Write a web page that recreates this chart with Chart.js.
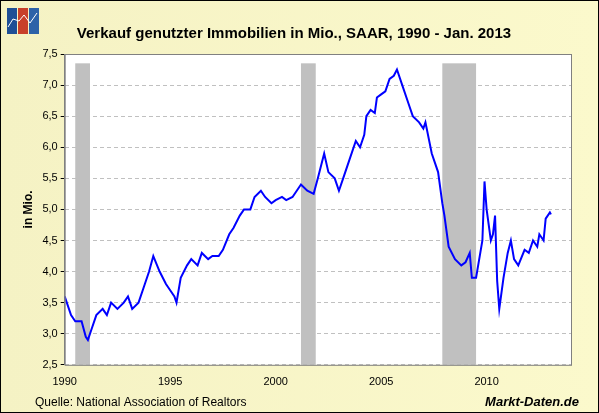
<!DOCTYPE html>
<html><head><meta charset="utf-8">
<script src="https://cdn.jsdelivr.net/npm/chart.js@4/dist/chart.umd.min.js"></script>
<style>
html,body{margin:0;padding:0}
body{width:599px;height:413px;overflow:hidden}
#wrap{position:relative;width:597px;height:411px;border:1px solid #000;background:linear-gradient(to right,#f5f2c4,#fbf9cc)}
canvas{position:absolute;left:0;top:0}
</style></head><body>
<div id="wrap"><canvas id="c" width="597" height="411"></canvas></div>
<script>
// Zeitpunkte (Dezimaljahr) und Verkäufe in Mio. (SAAR)
const years = [1990.0,1990.3,1990.5,1990.8,1991.0,1991.1,1991.3,1991.5,1991.8,1992.0,1992.2,1992.5,1992.8,1993.0,1993.2,1993.5,1993.8,1994.0,1994.2,1994.5,1994.8,1995.0,1995.2,1995.3,1995.5,1995.8,1996.0,1996.3,1996.5,1996.8,1997.0,1997.3,1997.5,1997.8,1998.0,1998.3,1998.5,1998.8,1999.0,1999.3,1999.5,1999.8,2000.0,2000.3,2000.5,2000.8,2001.0,2001.2,2001.5,2001.8,2002.0,2002.3,2002.5,2002.8,2003.0,2003.2,2003.5,2003.8,2004.0,2004.2,2004.3,2004.5,2004.7,2004.8,2005.0,2005.2,2005.4,2005.6,2005.75,2006.0,2006.3,2006.5,2006.8,2007.0,2007.1,2007.4,2007.7,2007.9,2008.0,2008.2,2008.5,2008.8,2009.0,2009.2,2009.3,2009.5,2009.7,2009.8,2009.9,2010.0,2010.2,2010.3,2010.4,2010.5,2010.6,2010.8,2011.0,2011.15,2011.3,2011.5,2011.8,2012.0,2012.2,2012.4,2012.5,2012.7,2012.8,2013.0,2013.05]
const sales = [3.6,3.3,3.2,3.2,2.95,2.9,3.1,3.3,3.4,3.3,3.5,3.4,3.5,3.6,3.4,3.5,3.8,4.0,4.25,4.0,3.8,3.7,3.6,3.5,3.9,4.1,4.2,4.1,4.3,4.2,4.25,4.25,4.35,4.6,4.7,4.9,5.0,5.0,5.2,5.3,5.2,5.1,5.15,5.2,5.15,5.2,5.3,5.4,5.3,5.25,5.5,5.9,5.6,5.5,5.3,5.5,5.8,6.1,6.0,6.2,6.5,6.6,6.55,6.8,6.85,6.9,7.1,7.15,7.25,7.0,6.7,6.5,6.4,6.3,6.4,5.9,5.6,5.1,4.9,4.4,4.2,4.1,4.15,4.3,3.9,3.9,4.3,4.5,5.45,5.0,4.5,4.6,4.9,3.85,3.4,3.9,4.3,4.5,4.2,4.1,4.35,4.3,4.5,4.4,4.6,4.5,4.85,4.95,4.92]
// Rezessionen [Beginn, Ende]
const recessions = [[1990.5,1991.2],[2001.2,2001.9],[2007.9,2009.5]]
const recessionTop = 7.35
const yTicks = [2.5,3.0,3.5,4.0,4.5,5.0,5.5,6.0,6.5,7.0,7.5]

const recessionPlugin = {
  id: 'recessions',
  beforeDatasetsDraw(chart) {
    const { ctx, scales: { x, y } } = chart
    ctx.save()
    ctx.fillStyle = '#c0c0c0'
    recessions.forEach(([a, b]) => {
      const x0 = x.getPixelForValue(a), x1 = x.getPixelForValue(b)
      const yt = y.getPixelForValue(recessionTop), yb = y.getPixelForValue(2.5)
      ctx.fillRect(x0, yt, x1 - x0, yb - yt)
    })
    ctx.restore()
  }
}

const frame = {
  id: 'frame',
  beforeDraw(chart) {
    const { ctx, chartArea: a } = chart
    ctx.save()
    ctx.fillStyle = '#fff'
    ctx.fillRect(a.left, a.top, a.right - a.left, a.bottom - a.top)
    // Logo
    ctx.fillStyle = '#1f4f96'; ctx.fillRect(6, 7, 10, 26)
    ctx.fillStyle = '#c8402a'; ctx.fillRect(17, 7, 10, 26)
    ctx.fillStyle = '#2d62a8'; ctx.fillRect(28, 7, 10, 26)
    ctx.strokeStyle = '#fff'; ctx.lineWidth = 1
    ctx.beginPath(); ctx.moveTo(7, 26); ctx.lineTo(12, 18); ctx.lineTo(18, 20); ctx.lineTo(23, 14); ctx.lineTo(29, 22); ctx.lineTo(36, 12); ctx.stroke()
    // Fußzeile
    ctx.fillStyle = '#000'
    ctx.font = '12px "Liberation Sans", Arial'
    ctx.fillText('Quelle: National Association of Realtors', 34, 405)
    ctx.font = 'italic bold 13px "Liberation Sans", Arial'
    ctx.textAlign = 'right'
    ctx.fillText('Markt-Daten.de', 578, 405)
    ctx.restore()
  },
  afterDraw(chart) {
    const { ctx, chartArea: a } = chart
    ctx.save()
    ctx.strokeStyle = '#808080'; ctx.lineWidth = 1
    ctx.strokeRect(a.left + 0.5, a.top + 0.5, a.right - a.left, a.bottom - a.top)
    ctx.restore()
  }
}

new Chart(document.getElementById('c'), {
  type: 'line',
  data: {
    datasets: [{
      data: years.map((t, i) => ({ x: t, y: sales[i] })),
      borderColor: '#0000ff',
      borderWidth: 2,
      pointRadius: 0,
      tension: 0,
      fill: false
    }]
  },
  options: {
    responsive: false,
    animation: false,
    layout: { padding: { left: 16, right: 27, top: 4, bottom: 20 } },
    plugins: {
      legend: { display: false },
      tooltip: { enabled: false },
      title: {
        display: true,
        text: 'Verkauf genutzter Immobilien in Mio., SAAR, 1990 - Jan. 2013',
        color: '#000',
        font: { family: '"Liberation Sans", Arial', size: 15, weight: 'bold' },
        padding: { top: 20, bottom: 11 }
      }
    },
    scales: {
      x: {
        type: 'linear', min: 1990, max: 2014,
        afterBuildTicks: s => { s.ticks = [1990, 1995, 2000, 2005, 2010].map(v => ({ value: v })) },
        grid: { display: false },
        border: { display: false },
        ticks: { color: '#000', font: { family: '"Liberation Sans", Arial', size: 11 }, callback: v => String(v), maxRotation: 0 }
      },
      y: {
        min: 2.5, max: 7.5,
        afterBuildTicks: s => { s.ticks = yTicks.map(v => ({ value: v })) },
        grid: { color: '#c0c0c0', tickColor: '#000', tickLength: 4, drawOnChartArea: true },
        border: { display: true, color: '#808080', dash: [4, 3] },
        ticks: { color: '#000', font: { family: '"Liberation Sans", Arial', size: 11 }, callback: v => v.toFixed(1).replace('.', ',') },
        title: { display: true, text: 'in Mio.', color: '#000', font: { family: '"Liberation Sans", Arial', size: 12, weight: 'bold' } }
      }
    }
  },
  plugins: [frame, recessionPlugin]
})
</script>
</body></html>
